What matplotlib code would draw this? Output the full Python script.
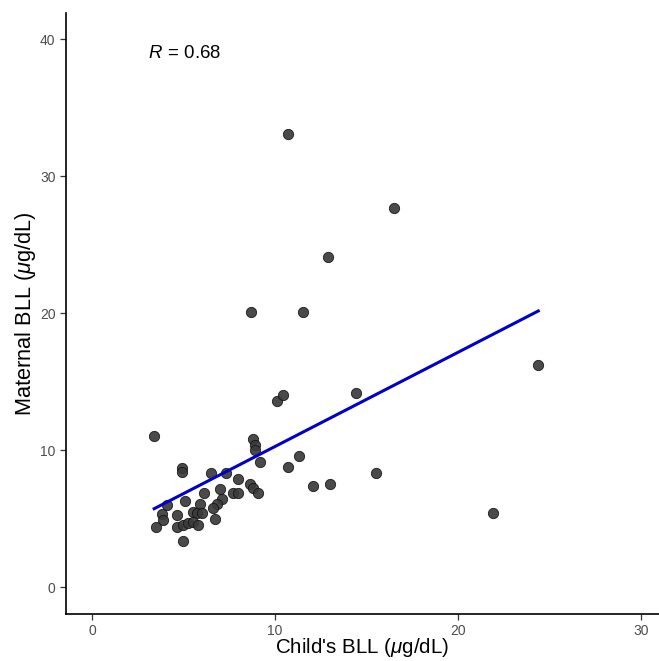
import numpy as np
import matplotlib
matplotlib.use("Agg")
import matplotlib.pyplot as plt

plt.rcParams['font.family'] = ['Liberation Sans', 'DejaVu Sans']
plt.rcParams['mathtext.fontset'] = 'custom'
plt.rcParams['mathtext.rm'] = 'Liberation Sans'
plt.rcParams['mathtext.it'] = 'Liberation Sans:italic'

child_bll = [3.4, 4.9, 4.9, 10.1, 10.45, 8.8, 8.9, 8.9, 9.2, 11.3, 10.7, 6.5, 7.3, 8.0,
             8.65, 8.8, 9.1, 7.7, 8.0, 7.0, 6.1, 7.1, 6.85, 6.6, 5.9, 5.1, 4.1, 6.7,
             5.5, 5.75, 6.0, 3.8, 3.9, 4.65, 3.5, 4.65, 5.0, 5.25, 5.5, 5.8, 5.0,
             14.45, 24.4, 12.1, 13.0, 15.5, 21.9, 10.7, 16.5, 12.9, 8.7, 11.55]
maternal_bll = [11.0, 8.7, 8.4, 13.6, 14.0, 10.8, 10.4, 10.0, 9.1, 9.6, 8.8, 8.3, 8.3, 7.9,
                7.5, 7.2, 6.9, 6.9, 6.9, 7.15, 6.9, 6.4, 6.1, 5.8, 6.1, 6.3, 6.0, 5.0,
                5.5, 5.4, 5.4, 5.3, 4.9, 5.25, 4.4, 4.4, 4.5, 4.7, 4.75, 4.5, 3.4,
                14.2, 16.2, 7.4, 7.5, 8.3, 5.4, 33.1, 27.7, 24.1, 20.1, 20.1]
r_label = "0.68"
x_ticks = [0, 10, 20, 30]
y_ticks = [0, 10, 20, 30, 40]

x = np.array(child_bll)
y = np.array(maternal_bll)

fig = plt.figure(figsize=(6.59, 6.61), dpi=100)
ax = fig.add_axes([0.1002, 0.071, 0.8998, 0.909])

ax.scatter(x, y, s=55, facecolor='#3a3a3a', edgecolor='#111111', linewidth=0.6,
           alpha=0.92, zorder=2)

slope, intercept = np.polyfit(x, y, 1)
xs = np.array([x.min(), x.max()])
ax.plot(xs, slope * xs + intercept, color='#0000C8', linewidth=2.2, zorder=3)

ax.text(x.min() - 0.33, 38.95, r"$\mathit{R}\,\mathrm{=}\,$" + r_label, fontsize=13.4,
        ha='left', va='center')

ax.set_xlim(-1.42, 31.0)
ax.set_ylim(-1.97, 41.9)
ax.set_xticks(x_ticks)
ax.set_yticks(y_ticks)
ax.tick_params(axis='both', colors='#333333', labelcolor='#4D4D4D', labelsize=10,
               length=4, width=0.9)
for side in ['top', 'right']:
    ax.spines[side].set_visible(False)
for side in ['left', 'bottom']:
    ax.spines[side].set_linewidth(1.2)
    ax.spines[side].set_color('black')

ax.set_xlabel(r"Child's BLL ($\mathit{\mu}$g/dL)", fontsize=14.8, labelpad=-1.5)
ax.set_ylabel(r"Maternal BLL ($\mathit{\mu}$g/dL)", fontsize=15.7, labelpad=1.5)

fig.savefig("out.png", dpi=100)
